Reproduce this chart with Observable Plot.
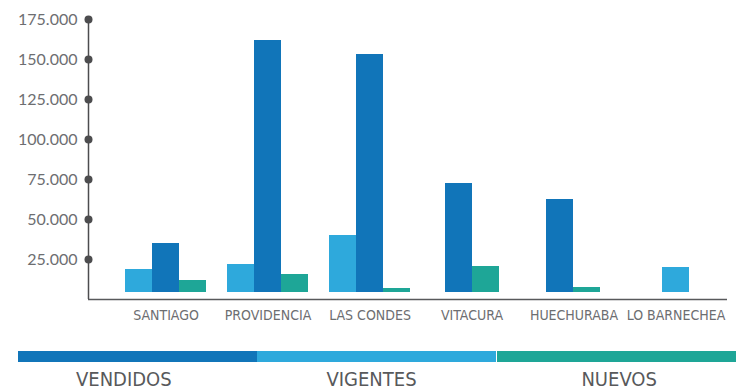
<!DOCTYPE html>
<html>
<head>
<meta charset="utf-8">
<script src="https://cdn.jsdelivr.net/npm/d3@7"></script>
<script src="https://cdn.jsdelivr.net/npm/@observablehq/plot@0.6"></script>
<style>
  body { margin: 0; background: #fff; }
  #chart svg { display: block; }
  .legend-bars { display: flex; margin: 11px 7px 0 18px; height: 11px; }
  .legend-bars div { flex: 1; }
  .legend-labels { display: flex; margin-top: 7px; }
  .legend-labels div {
    flex: 1; text-align: center;
    font-family: "Liberation Sans Narrow", "DejaVu Sans Condensed", "Roboto Condensed", sans-serif;
    font-size: 20px; line-height: 21px; color: #58595b;
  }
</style>
</head>
<body>
<div id="chart"></div>
<div class="legend-bars" id="legend-bars"></div>
<div class="legend-labels" id="legend-labels"></div>
<script>
// Comunas on the x axis
const comunas = ["SANTIAGO", "PROVIDENCIA", "LAS CONDES", "VITACURA", "HUECHURABA", "LO BARNECHEA"];

// Units per comuna (0 = no bar)
const vigentes = [19000, 22000, 40000, 0, 0, 20200];
const vendidos = [35200, 162000, 153300, 72700, 62700, 0];
const nuevos   = [12000, 15800, 7000, 20800, 7700, 0];

// Y axis ticks
const yTicks = [25000, 50000, 75000, 100000, 125000, 150000, 175000];

// Series, in the order they sit inside each group
const series = [
  {name: "VIGENTES", values: vigentes, color: "#2ea9dc"},
  {name: "VENDIDOS", values: vendidos, color: "#1175b9"},
  {name: "NUEVOS",   values: nuevos,   color: "#1ea697"}
];
// Legend order
const legendOrder = ["VENDIDOS", "VIGENTES", "NUEVOS"];

const barW = 27 / 102;      // bar width, in group units
const barBase = 4600;       // bars rest slightly above the axis line
const xDomain = [-0.76, 5.505];
const yMax = 175000;

// One row per drawn bar; empty series are skipped and the rest centred in the group
const rows = [];
comunas.forEach((c, i) => {
  const present = series.filter(s => s.values[i] > 0);
  present.forEach((s, j) => {
    rows.push({i, serie: s.name, value: s.values[i], slot: j - present.length / 2});
  });
});

const fmt = d3.formatLocale({decimal: ",", thousands: ".", grouping: [3], currency: ["", ""]}).format(",");
const narrow = "'Liberation Sans Narrow', 'DejaVu Sans Condensed', 'Roboto Condensed', sans-serif";

const chart = Plot.plot({
  width: 743,
  height: 340,
  marginLeft: 88,
  marginRight: 16,
  marginTop: 19,
  marginBottom: 41,
  x: {type: "linear", domain: xDomain},
  y: {domain: [0, yMax]},
  color: {domain: series.map(s => s.name), range: series.map(s => s.color)},
  marks: [
    Plot.rectY(rows, {
      x1: d => d.i + d.slot * barW,
      x2: d => d.i + (d.slot + 1) * barW,
      y1: barBase,
      y2: "value",
      fill: "serie",
      shapeRendering: "crispEdges"
    }),
    Plot.ruleY([0], {stroke: "#58595b", strokeWidth: 1.5}),
    Plot.ruleX([xDomain[0]], {y1: 0, y2: yMax, stroke: "#4d4d4f", strokeWidth: 1.5}),
    Plot.dot(yTicks, {y: d => d, frameAnchor: "left", r: 4, fill: "#4d4d4f"}),
    Plot.axisY(yTicks, {
      tickSize: 0, tickPadding: 11, tickFormat: fmt,
      color: "#6d6e71", fontSize: 16, fontFamily: "Lato, sans-serif", label: null
    }),
    Plot.axisX(d3.range(comunas.length), {
      tickSize: 0, tickPadding: 11, tickFormat: i => comunas[i],
      color: "#6d6e71", fontSize: 14, fontFamily: narrow, label: null
    })
  ]
});
document.getElementById("chart").append(chart);

// Legend below the chart
const bars = document.getElementById("legend-bars");
const labels = document.getElementById("legend-labels");
legendOrder.forEach((name, k) => {
  const s = series.find(d => d.name === name);
  const b = document.createElement("div");
  b.style.background = s.color;
  if (k === 2) b.style.borderLeft = "1px solid #fff";
  bars.append(b);
  const t = document.createElement("div");
  t.textContent = name;
  labels.append(t);
});
</script>
</body>
</html>
